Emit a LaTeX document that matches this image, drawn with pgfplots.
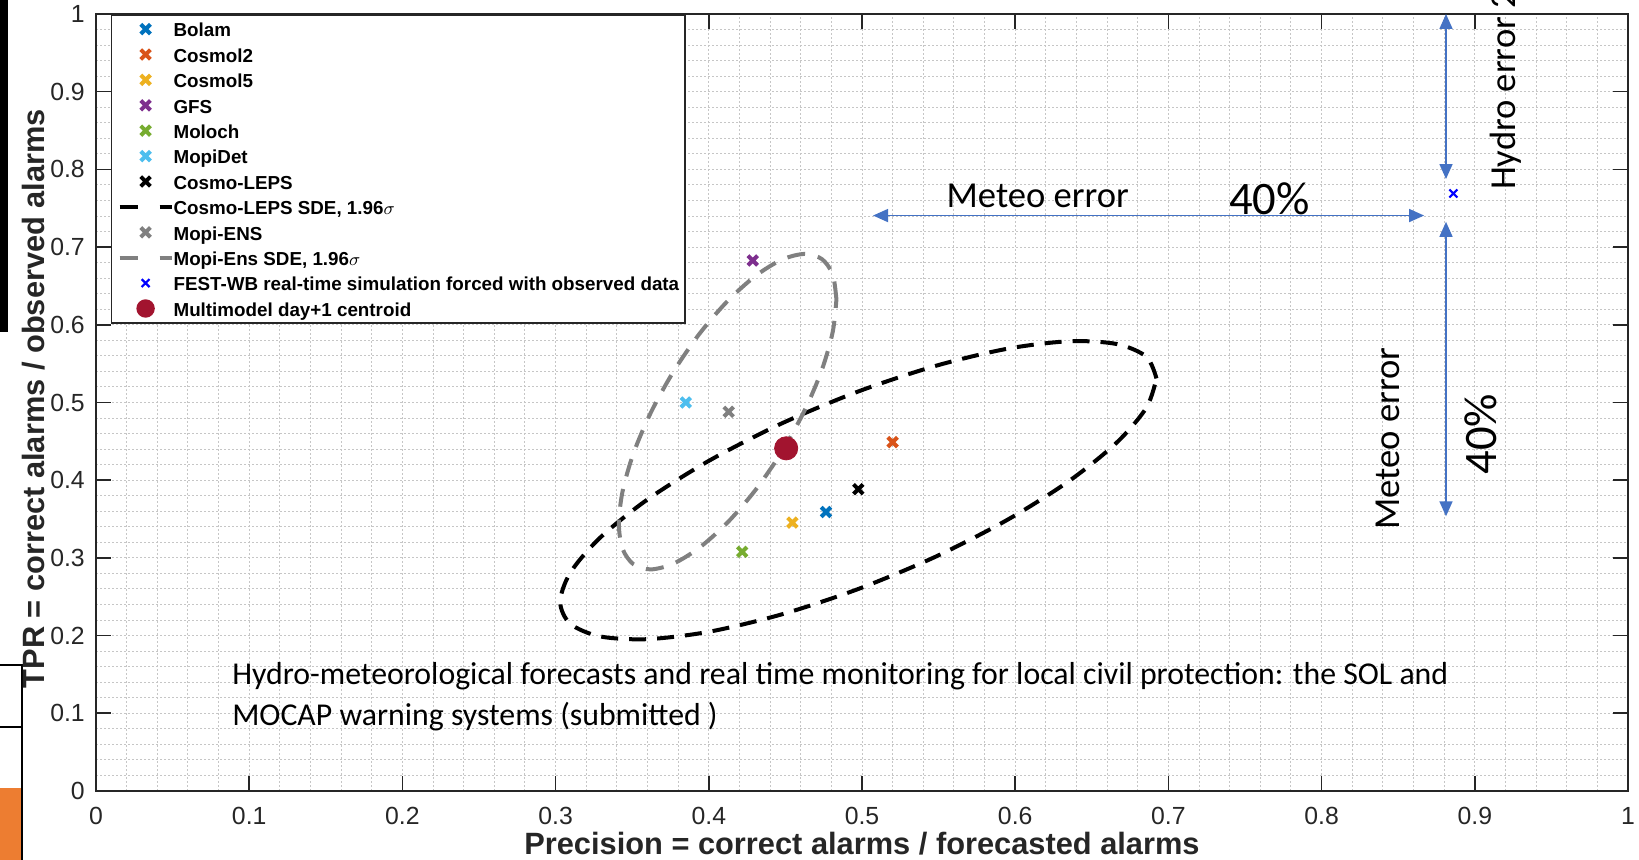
\documentclass[border=0pt]{standalone}
\usepackage{fontspec}
\setmainfont{Liberation Sans}
\newfontfamily\carlito{Carlito}
\usepackage{pgfplots}
\pgfplotsset{compat=1.18}
\usetikzlibrary{arrows.meta}
\definecolor{axisgray}{HTML}{262626}
\definecolor{cBolam}{HTML}{0072BD}
\definecolor{cCosmolA}{HTML}{D95319}
\definecolor{cCosmolB}{HTML}{EDB120}
\definecolor{cGFS}{HTML}{7E2F8E}
\definecolor{cMoloch}{HTML}{77AC30}
\definecolor{cMopiDet}{HTML}{4DBEEE}
\definecolor{cMopiEns}{HTML}{808080}
\definecolor{cFest}{HTML}{0000FF}
\definecolor{cCentroid}{HTML}{A2142F}
\definecolor{arrowblue}{HTML}{4472C4}
\definecolor{officeorange}{HTML}{ED7D31}
\pgfplotsset{modelmark/.style={only marks, mark=x, mark size=3.4pt, color=#1, mark options={line width=2pt}}}
\begin{document}
\begin{tikzpicture}
\useasboundingbox (-48pt,-34.5pt) rectangle (771.5pt,395.5pt);
\clip (-48pt,-34.5pt) rectangle (771.5pt,395.5pt);
% cropped fragments at the left border
\fill[black] (-48pt,229.5pt) rectangle (-43.8pt,395.5pt);
\fill[officeorange] (-48pt,-34.5pt) rectangle (-37.6pt,1.5pt);
\draw[black,line width=1pt] (-48pt,63pt) -- (-37.15pt,63pt) -- (-37.15pt,-34.5pt);
\draw[black,line width=1pt] (-48pt,32pt) -- (-37.15pt,32pt);
\begin{axis}[
  at={(0,0)}, anchor=south west,
  scale only axis, width=766pt, height=388.5pt,
  xmin=0, xmax=1, ymin=0, ymax=1,
  clip=false,
  xtick={0,0.1,0.2,0.3,0.4,0.5,0.6,0.7,0.8,0.9,1},
  ytick={0,0.1,0.2,0.3,0.4,0.5,0.6,0.7,0.8,0.9,1},
  minor x tick num=4, minor y tick num=4,
  grid=both,
  major grid style={gray!45, line width=0.5pt, dash pattern=on 1pt off 1pt},
  minor grid style={gray!45, line width=0.5pt, dash pattern=on 1pt off 1pt},
  tick align=inside, major tick length=7.5pt, minor tick length=0pt,
  axis line style={draw=axisgray, line width=0.8pt},
  major tick style={draw=axisgray, line width=0.8pt},
  /pgf/number format/assume math mode=true,
  ticklabel style={font=\fontsize{12.4}{14}\selectfont, text=axisgray},
  xticklabel style={yshift=-4.7pt},
  yticklabel style={xshift=-2.1pt},
  xlabel={Precision = correct alarms / forecasted alarms},
  ylabel={TPR = correct alarms / observed alarms},
  label style={font=\bfseries\fontsize{15.4}{18}\selectfont, text=axisgray},
  xlabel style={at={(axis description cs:0.5,-0.0811)}, anchor=base},
  ylabel style={at={(axis description cs:-0.0339,0.505)}, anchor=base},
  legend cell align=left,
  legend image code/.code={\draw[mark repeat=2,mark phase=2,#1] plot coordinates {(0pt,0pt) (13pt,0pt) (26pt,0pt)};},
  legend style={at={(0.00966,1)}, anchor=north west, draw=axisgray, line width=0.8pt, fill=white,
    inner xsep=3pt, inner ysep=0.8pt, row sep=0pt,
    font=\bfseries\fontsize{9.4}{11}\selectfont,
    nodes={inner sep=0pt, text height=10.3pt, text depth=2.4pt}},
]
\addplot[modelmark=cBolam] coordinates {(0.4765,0.359)};
\addlegendentry{Bolam}
\addplot[modelmark=cCosmolA] coordinates {(0.520,0.449)};
\addlegendentry{Cosmol2}
\addplot[modelmark=cCosmolB] coordinates {(0.4546,0.3454)};
\addlegendentry{Cosmol5}
\addplot[modelmark=cGFS] coordinates {(0.4287,0.6828)};
\addlegendentry{GFS}
\addplot[modelmark=cMoloch] coordinates {(0.4218,0.3078)};
\addlegendentry{Moloch}
\addplot[modelmark=cMopiDet] coordinates {(0.385,0.500)};
\addlegendentry{MopiDet}
\addplot[modelmark=black] coordinates {(0.4976,0.3884)};
\addlegendentry{Cosmo-LEPS}
\addplot[black, line width=2pt, dash pattern=on 8.5pt off 5.5pt, smooth, no marks,
  legend image post style={dash pattern=on 9pt off 11pt}] coordinates {
(0.6922,0.5310) (0.6856,0.5590) (0.6661,0.5753) (0.6352,0.5788) (0.5949,0.5692) (0.5480,0.5471)
(0.4976,0.5142) (0.4472,0.4727) (0.4003,0.4252) (0.3600,0.3752) (0.3291,0.3261) (0.3096,0.2810)
(0.3030,0.2432) (0.3096,0.2152) (0.3291,0.1989) (0.3600,0.1954) (0.4003,0.2050) (0.4472,0.2271)
(0.4976,0.2600) (0.5480,0.3015) (0.5949,0.3490) (0.6352,0.3990) (0.6661,0.4481) (0.6856,0.4932)
(0.6922,0.5310)};
\addlegendentry{Cosmo-LEPS SDE, 1.96$\sigma$}
\addplot[modelmark=cMopiEns] coordinates {(0.413,0.488)};
\addlegendentry{Mopi-ENS}
\addplot[cMopiEns, line width=2pt, dash pattern=on 9pt off 6.5pt, smooth, no marks,
  legend image post style={dash pattern=on 9pt off 11pt}] coordinates {
(0.4833,0.6327) (0.4809,0.6647) (0.4738,0.6846) (0.4625,0.6912) (0.4478,0.6839) (0.4307,0.6632)
(0.4123,0.6307) (0.3939,0.5884) (0.3768,0.5393) (0.3621,0.4868) (0.3508,0.4344) (0.3437,0.3855)
(0.3413,0.3437) (0.3437,0.3117) (0.3508,0.2918) (0.3621,0.2852) (0.3768,0.2925) (0.3939,0.3132)
(0.4123,0.3457) (0.4307,0.3880) (0.4478,0.4371) (0.4625,0.4896) (0.4738,0.5420) (0.4809,0.5909)
(0.4833,0.6327)};
\addlegendentry{Mopi-Ens SDE, 1.96$\sigma$}
\addplot[only marks, mark=x, mark size=2.8pt, color=cFest, mark options={line width=1.1pt}] coordinates {(0.886,0.769)};
\addlegendentry{FEST-WB real-time simulation forced with observed data}
\addplot[only marks, mark=*, mark size=5.8pt, color=cCentroid, mark options={fill=cCentroid},
  legend image post style={mark size=4.2pt}] coordinates {(0.4505,0.441)};
\addlegendentry{Multimodel day+1 centroid}
% annotations
\draw[arrowblue, line width=0.8pt, {Triangle[length=7.5pt,width=6.5pt]}-{Triangle[length=7.5pt,width=6.5pt]}]
  (axis cs:0.5072,0.7406) -- (axis cs:0.8669,0.7406);
\draw[arrowblue, line width=0.8pt, {Triangle[length=7.5pt,width=6.5pt]}-{Triangle[length=7.5pt,width=6.5pt]}]
  (axis cs:0.8812,1.0) -- (axis cs:0.8812,0.7876);
\draw[arrowblue, line width=0.8pt, {Triangle[length=7.5pt,width=6.5pt]}-{Triangle[length=7.5pt,width=6.5pt]}]
  (axis cs:0.8812,0.7325) -- (axis cs:0.8812,0.3535);
\node[anchor=base west, inner sep=0pt, font=\carlito\fontsize{18.3}{20}\selectfont] at (axis cs:0.555,0.751) {Meteo error};
\node[anchor=base west, inner sep=0pt, font=\carlito\fontsize{23.3}{26}\selectfont] at (axis cs:0.7393,0.742) {40\%};
\node[rotate=90, anchor=base west, inner sep=0pt, font=\carlito\fontsize{18.3}{20}\selectfont] at (axis cs:0.851,0.336) {Meteo error};
\node[rotate=90, anchor=base west, inner sep=0pt, font=\carlito\fontsize{23.3}{26}\selectfont] at (axis cs:0.914,0.407) {40\%};
\node[rotate=90, anchor=base west, inner sep=0pt, font=\carlito\fontsize{18.3}{20}\selectfont] at (axis cs:0.9263,0.773) {Hydro error 20\%};
\node[anchor=base west, inner sep=0pt, font=\carlito\fontsize{15.9}{19}\selectfont] at (axis cs:0.0887,0.137) {Hydro-meteorological forecasts and real time monitoring for local civil protection: the SOL and};
\node[anchor=base west, inner sep=0pt, font=\carlito\fontsize{15.9}{19}\selectfont] at (axis cs:0.0887,0.0847) {MOCAP warning systems (submitted )};
\end{axis}
\end{tikzpicture}
\end{document}
